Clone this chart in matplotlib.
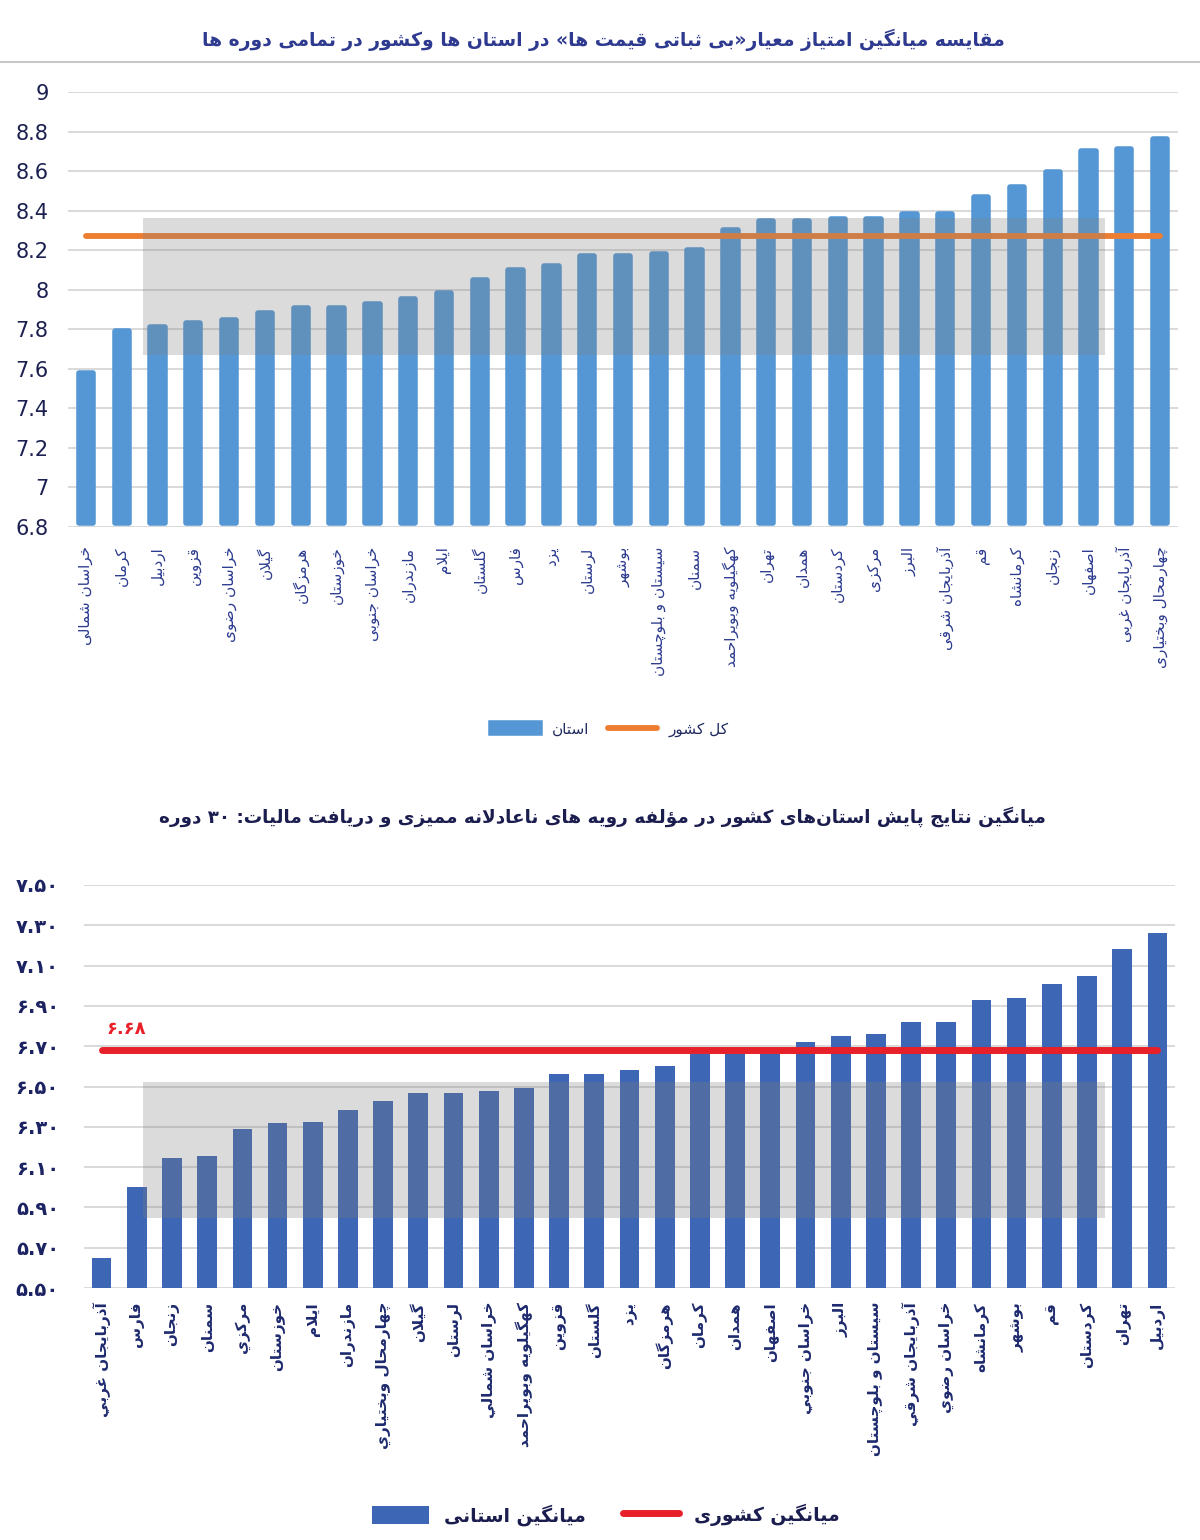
import re
import matplotlib
matplotlib.use('Agg')
import matplotlib.pyplot as plt
from matplotlib.patches import Rectangle
from matplotlib.lines import Line2D

plt.rcParams['font.family'] = ['DejaVu Sans']

# ---------------- data ----------------
top_provinces = ['خراسان شمالی', 'کرمان', 'اردبیل', 'قزوین', 'خراسان رضوی', 'گیلان',
                 'هرمزگان', 'خوزستان', 'خراسان جنوبی', 'مازندران', 'ایلام', 'گلستان',
                 'فارس', 'یزد', 'لرستان', 'بوشهر', 'سیستان و بلوچستان', 'سمنان',
                 'کهگیلویه وبویراحمد', 'تهران', 'همدان', 'کردستان', 'مرکزی', 'البرز',
                 'آذربایجان شرقی', 'قم', 'کرمانشاه', 'زنجان', 'اصفهان', 'آذربایجان غربی',
                 'چهارمحال وبختیاری']
top_scores = [7.58, 7.79, 7.81, 7.83, 7.845, 7.88, 7.91, 7.91, 7.93, 7.955, 7.985, 8.05,
              8.10, 8.12, 8.17, 8.17, 8.18, 8.20, 8.30, 8.35, 8.35, 8.36, 8.36, 8.385,
              8.385, 8.47, 8.52, 8.595, 8.70, 8.71, 8.76]
top_national = 8.27
top_ticks = [6.8, 7.0, 7.2, 7.4, 7.6, 7.8, 8.0, 8.2, 8.4, 8.6, 8.8, 9.0]

bottom_provinces = ['آذربایجان غربي', 'فارس', 'زنجان', 'سمنان', 'مرکزي', 'خوزستان', 'ایلام',
                    'مازندران', 'چهارمحال وبختياري', 'گیلان', 'لرستان', 'خراسان شمالي',
                    'کهگیلویه وبویراحمد', 'قزوین', 'گلستان', 'یزد', 'هرمزگان', 'کرمان',
                    'همدان', 'اصفهان', 'خراسان جنوبي', 'البرز', 'سیستان و بلوچستان',
                    'آذربایجان شرقي', 'خراسان رضوي', 'کرمانشاه', 'بوشهر', 'قم', 'کردستان',
                    'تهران', 'اردبیل']
bottom_scores = [5.65, 6.00, 6.145, 6.153, 6.29, 6.32, 6.325, 6.385, 6.43, 6.47, 6.47, 6.48,
                 6.495, 6.56, 6.56, 6.58, 6.60, 6.66, 6.66, 6.66, 6.72, 6.75, 6.76, 6.82,
                 6.82, 6.93, 6.94, 7.01, 7.05, 7.18, 7.26]
bottom_national = 6.68
bottom_ticks = [5.5, 5.7, 5.9, 6.1, 6.3, 6.5, 6.7, 6.9, 7.1, 7.3, 7.5]

title_top = 'مقایسه میانگین امتیاز معیار«بی ثباتی قیمت ها» در استان ها وکشور در تمامی دوره ها'
title_bottom = 'میانگین نتایج پایش استان\u200cهای کشور در مؤلفه رویه های ناعادلانه ممیزی و دریافت مالیات: ۳۰ دوره'

# ---------------- persian shaping (no bidi lib available) ----------------
# isolated, final, initial, medial
FORMS = {
    'ا': ('\uFE8D', '\uFE8E', None, None), 'آ': ('\uFE81', '\uFE82', None, None),
    'أ': ('\uFE83', '\uFE84', None, None), 'ب': ('\uFE8F', '\uFE90', '\uFE91', '\uFE92'),
    'پ': ('\uFB56', '\uFB57', '\uFB58', '\uFB59'), 'ت': ('\uFE95', '\uFE96', '\uFE97', '\uFE98'),
    'ث': ('\uFE99', '\uFE9A', '\uFE9B', '\uFE9C'), 'ج': ('\uFE9D', '\uFE9E', '\uFE9F', '\uFEA0'),
    'چ': ('\uFB7A', '\uFB7B', '\uFB7C', '\uFB7D'), 'ح': ('\uFEA1', '\uFEA2', '\uFEA3', '\uFEA4'),
    'خ': ('\uFEA5', '\uFEA6', '\uFEA7', '\uFEA8'), 'د': ('\uFEA9', '\uFEAA', None, None),
    'ذ': ('\uFEAB', '\uFEAC', None, None), 'ر': ('\uFEAD', '\uFEAE', None, None),
    'ز': ('\uFEAF', '\uFEB0', None, None), 'ژ': ('\uFB8A', '\uFB8B', None, None),
    'س': ('\uFEB1', '\uFEB2', '\uFEB3', '\uFEB4'), 'ش': ('\uFEB5', '\uFEB6', '\uFEB7', '\uFEB8'),
    'ص': ('\uFEB9', '\uFEBA', '\uFEBB', '\uFEBC'), 'ض': ('\uFEBD', '\uFEBE', '\uFEBF', '\uFEC0'),
    'ط': ('\uFEC1', '\uFEC2', '\uFEC3', '\uFEC4'), 'ظ': ('\uFEC5', '\uFEC6', '\uFEC7', '\uFEC8'),
    'ع': ('\uFEC9', '\uFECA', '\uFECB', '\uFECC'), 'غ': ('\uFECD', '\uFECE', '\uFECF', '\uFED0'),
    'ف': ('\uFED1', '\uFED2', '\uFED3', '\uFED4'), 'ق': ('\uFED5', '\uFED6', '\uFED7', '\uFED8'),
    'ک': ('\uFB8E', '\uFB8F', '\uFB90', '\uFB91'), 'گ': ('\uFB92', '\uFB93', '\uFB94', '\uFB95'),
    'ل': ('\uFEDD', '\uFEDE', '\uFEDF', '\uFEE0'), 'م': ('\uFEE1', '\uFEE2', '\uFEE3', '\uFEE4'),
    'ن': ('\uFEE5', '\uFEE6', '\uFEE7', '\uFEE8'), 'و': ('\uFEED', '\uFEEE', None, None),
    'ؤ': ('\uFE85', '\uFE86', None, None), 'ه': ('\uFEE9', '\uFEEA', '\uFEEB', '\uFEEC'),
    'ی': ('\uFBFC', '\uFBFD', '\uFBFE', '\uFBFF'), 'ي': ('\uFEF1', '\uFEF2', '\uFEF3', '\uFEF4'),
    'ئ': ('\uFE89', '\uFE8A', '\uFE8B', '\uFE8C'),
}
LAM_ALEF = {'ا': ('\uFEFB', '\uFEFC'), 'آ': ('\uFEF5', '\uFEF6')}
MIRROR = str.maketrans({'«': '»', '»': '«', '(': ')', ')': '('})
DIGITS = '0-9\u06F0-\u06F9'


def joins_next(c):
    return c in FORMS and FORMS[c][2] is not None


def shape(text):
    res = []
    i = 0
    n = len(text)
    while i < n:
        c = text[i]
        if c not in FORMS:
            if c != '\u200c':
                res.append(c)
            i += 1
            continue
        joined_prev = i > 0 and joins_next(text[i - 1])
        if c == 'ل' and i + 1 < n and text[i + 1] in LAM_ALEF:
            iso, fin = LAM_ALEF[text[i + 1]]
            res.append(fin if joined_prev else iso)
            i += 2
            continue
        joined_next = joins_next(c) and i + 1 < n and text[i + 1] in FORMS
        iso, fin, ini, med = FORMS[c]
        if joined_prev and joined_next:
            res.append(med)
        elif joined_prev:
            res.append(fin)
        elif joined_next:
            res.append(ini)
        else:
            res.append(iso)
        i += 1
    return ''.join(res)


def fa(text):
    s = shape(text)[::-1].translate(MIRROR)
    # numbers keep their left-to-right order
    return re.sub('[%s]+(?:\\.[%s]+)*' % (DIGITS, DIGITS), lambda m: m.group()[::-1], s)


def fa_num(v):
    return f'{v:.2f}'.translate(str.maketrans('0123456789', '۰۱۲۳۴۵۶۷۸۹'))


# ---------------- figure ----------------
fig = plt.figure(figsize=(12, 15.4), dpi=100)
H = 1540.0
W = 1200.0

# ===== top chart =====
ax1 = fig.add_axes([68 / W, 1 - 527 / H, 1110 / W, 435 / H])
x1 = range(len(top_scores))
bars1 = ax1.bar(x1, [v - 6.82 for v in top_scores], bottom=6.82, width=0.40,
                color='#5597d4', edgecolor='#5597d4', linewidth=4, joinstyle='round', zorder=2)
line1, = ax1.plot(x1, [top_national] * len(top_scores), color='#ed7d31', lw=4.2,
                  solid_capstyle='round', zorder=3)
ax1.set_xlim(-0.5, len(top_scores) - 0.5)
ax1.set_ylim(6.8, 9.0)
ax1.set_yticks(top_ticks)
ax1.set_yticklabels([f'{round(t, 1):g}' for t in top_ticks], fontsize=15, color='#1b2050')
ax1.set_xticks(list(x1))
ax1.set_xticklabels([fa(p) for p in top_provinces], rotation=90, fontsize=11,
                    color='#2c3b8f', va='top', ha='center')
ax1.tick_params(axis='both', length=0)
ax1.tick_params(axis='y', pad=14)
ax1.tick_params(axis='x', pad=14)
ax1.grid(axis='y', color='#d9d9d9', lw=1.4, zorder=0)
ax1.set_axisbelow(True)
for s in ax1.spines.values():
    s.set_visible(False)

fig.text(603 / W, 1 - 40 / H, fa(title_top), ha='center', va='center', fontsize=13.5,
         fontweight='bold', color='#2e3a8f')
fig.add_artist(Line2D([0, 1], [1 - 62 / H, 1 - 62 / H], color='#c8c8c8', lw=1.5))

fig.legend([bars1, line1], [fa('استان'), fa('کل کشور')], loc='center',
           bbox_to_anchor=(610 / W, 1 - 729 / H), ncol=2, frameon=False, fontsize=11,
           handlelength=3.2, handleheight=0.7, columnspacing=1.2, labelcolor='#1f2a5f')

# ===== bottom chart =====
ax2 = fig.add_axes([84 / W, 1 - 1288 / H, 1091 / W, 403 / H])
x2 = range(len(bottom_scores))
bars2 = ax2.bar(x2, [v - 5.5 for v in bottom_scores], bottom=5.5, width=0.56,
                color='#3d66b4', zorder=2)
line2, = ax2.plot(x2, [bottom_national] * len(bottom_scores), color='#e8202a', lw=5,
                  solid_capstyle='round', zorder=3)
ax2.text(0.7, bottom_national + 0.06, fa_num(bottom_national), color='#e8202a',
         fontsize=13, fontweight='bold', ha='center', va='bottom')
ax2.set_xlim(-0.5, len(bottom_scores) - 0.5)
ax2.set_ylim(5.5, 7.5)
ax2.set_yticks(bottom_ticks)
ax2.set_yticklabels([fa_num(t) for t in bottom_ticks], fontsize=14, fontweight='bold',
                    color='#1c2363')
ax2.set_xticks(list(x2))
ax2.set_xticklabels([fa(p) for p in bottom_provinces], rotation=90, fontsize=11,
                    fontweight='bold', color='#1e2a6e', va='top', ha='center')
ax2.tick_params(axis='both', length=0)
ax2.tick_params(axis='y', pad=18)
ax2.tick_params(axis='x', pad=10)
ax2.grid(axis='y', color='#d9d9d9', lw=1.4, zorder=0)
ax2.set_axisbelow(True)
for s in ax2.spines.values():
    s.set_visible(False)

fig.text(602 / W, 1 - 817 / H, fa(title_bottom), ha='center', va='center', fontsize=13.2,
         fontweight='bold', color='#1b1d4f')

fig.legend([bars2, line2], [fa('میانگین استانی'), fa('میانگین کشوری')], loc='center',
           bbox_to_anchor=(606 / W, 1 - 1515 / H), ncol=2, frameon=False,
           prop={'size': 13.5, 'weight': 'bold'}, handlelength=3.0, handleheight=1.1,
           columnspacing=2.0, labelcolor='#1b1d4f')

# gray watermark boxes
for y0, y1 in [(218, 355), (1082, 1218)]:
    fig.add_artist(Rectangle((143 / W, 1 - y1 / H), (1105 - 143) / W, (y1 - y0) / H,
                             transform=fig.transFigure, fc='#7f7f7f', alpha=0.28,
                             lw=0, zorder=5))

fig.savefig('out.png', dpi=100)
